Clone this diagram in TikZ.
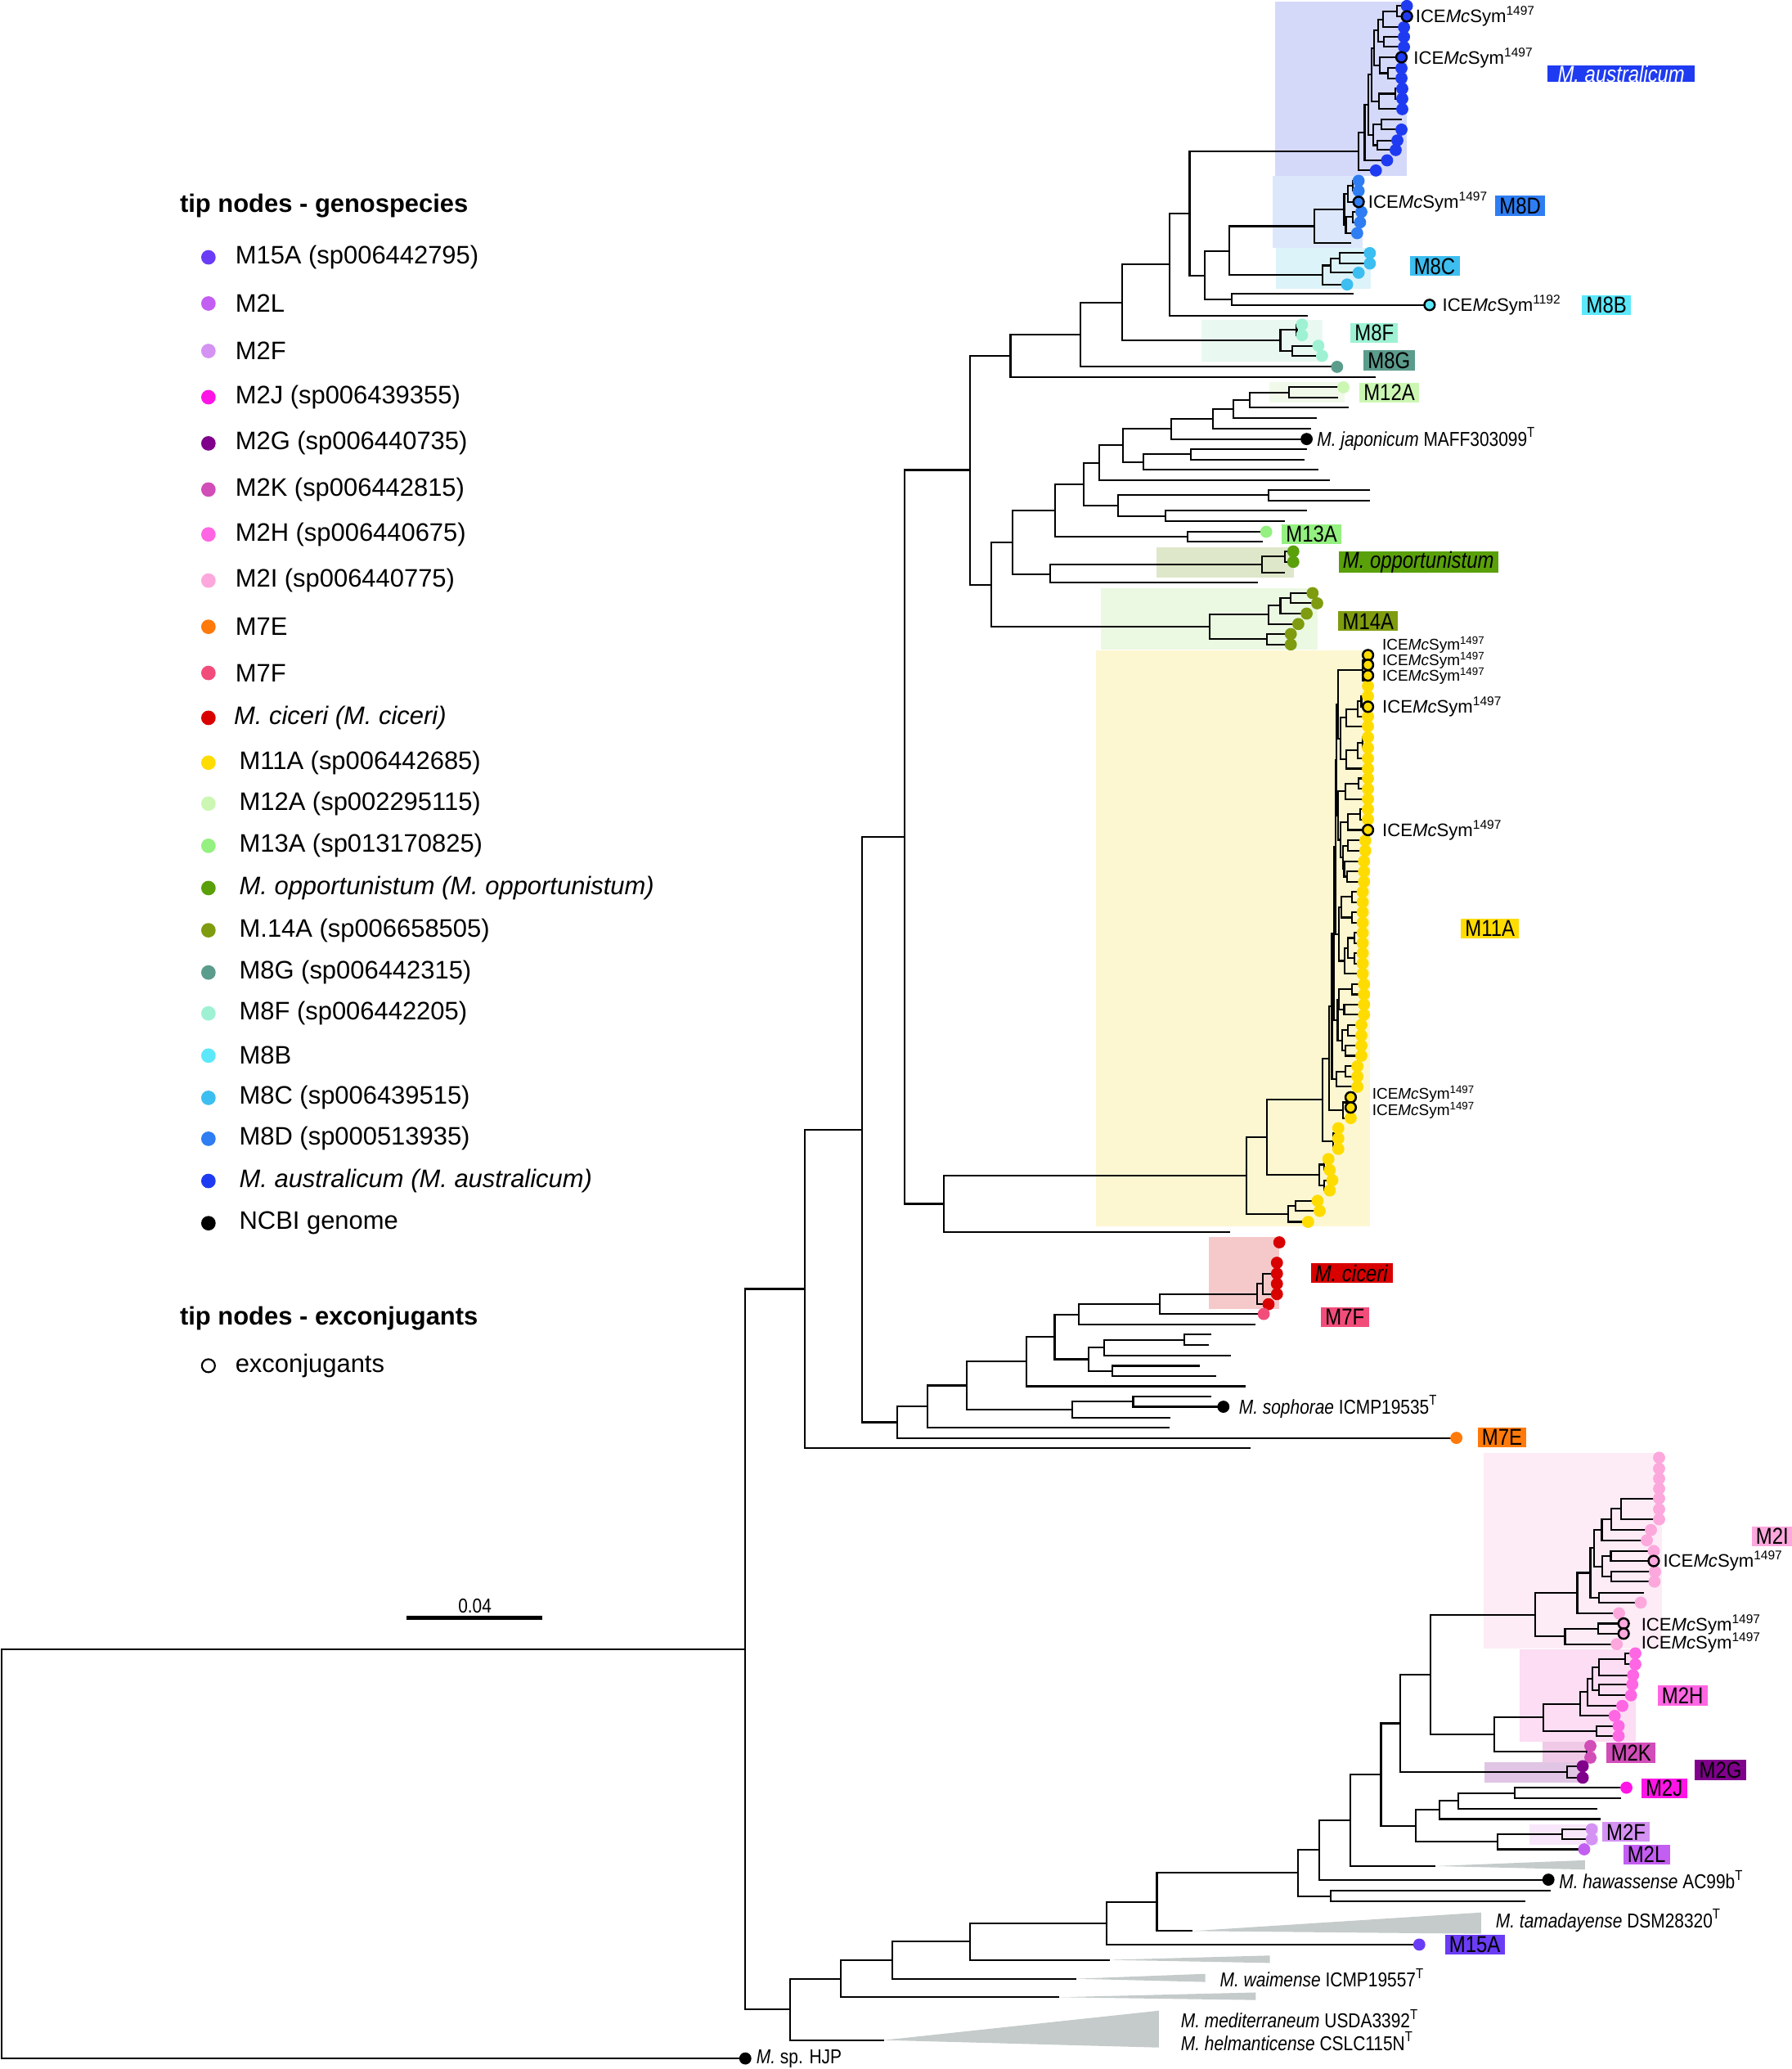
\documentclass[tikz,border=0pt]{standalone}
\usepackage{fontspec}
\setmainfont{Liberation Sans}
\newfontfamily\nar[FakeStretch=0.85]{Liberation Sans}
\newcommand\lgf{\fontsize{8.8}{10}\selectfont}
\newcommand\icef{\fontsize{6.3}{7}\selectfont}
\newcommand\icesf{\fontsize{5.4}{6}\selectfont}
\newcommand\spf{\nar\fontsize{7}{8}\selectfont}
\newcommand\bxf{\nar\fontsize{8}{8}\selectfont}
\definecolor{cM15A}{HTML}{6B3CF5}
\definecolor{cM2L}{HTML}{C35EF2}
\definecolor{cM2F}{HTML}{D492F2}
\definecolor{cM2J}{HTML}{FF14E6}
\definecolor{cM2G}{HTML}{80008C}
\definecolor{cM2K}{HTML}{D14DB8}
\definecolor{cM2H}{HTML}{FF66E3}
\definecolor{cM2I}{HTML}{FCA8DD}
\definecolor{cM7E}{HTML}{FF7A0A}
\definecolor{cM7F}{HTML}{F24D7A}
\definecolor{cCic}{HTML}{D90000}
\definecolor{cM11A}{HTML}{FFDC00}
\definecolor{cM12A}{HTML}{CCF7B3}
\definecolor{cM13A}{HTML}{94F080}
\definecolor{cOpp}{HTML}{5AA00A}
\definecolor{cM14A}{HTML}{7F9C10}
\definecolor{cM8G}{HTML}{5C9C8C}
\definecolor{cM8F}{HTML}{9EF2D3}
\definecolor{cM8B}{HTML}{5CE8FA}
\definecolor{cM8C}{HTML}{3DBEF0}
\definecolor{cM8D}{HTML}{2E7DF2}
\definecolor{cAus}{HTML}{1F3BF2}
\definecolor{bAus}{HTML}{D4D8F9}
\definecolor{bM8D}{HTML}{DCE7FC}
\definecolor{bM8C}{HTML}{DDF3FA}
\definecolor{bM8F}{HTML}{E9F9F1}
\definecolor{bM12A}{HTML}{F1FAEA}
\definecolor{bOpp}{HTML}{DEE7C9}
\definecolor{bM14A}{HTML}{EBF8E2}
\definecolor{bM11A}{HTML}{FCF7D1}
\definecolor{bCic}{HTML}{F5C9C9}
\definecolor{bM2I}{HTML}{FDEBF6}
\definecolor{bM2H}{HTML}{FCDDF3}
\definecolor{bM2K}{HTML}{F0C9E7}
\definecolor{bM2G}{HTML}{E1C5E5}
\definecolor{bM2F}{HTML}{F8E7FB}
\definecolor{triG}{HTML}{C4CBCA}
\newcommand\clade[5]{\draw[br] (#3,#2) -- (#1,#2) -- (#1,#4) -- (#5,#4);}
\newcommand\tdot[3]{\fill[#1] (#2,#3) circle[radius=0.0742cm];}
\newcommand\xdot[3]{\filldraw[fill=#1,draw=black,line width=0.7pt] (#2,#3) circle[radius=0.064cm];}
\begin{document}
\begin{tikzpicture}[x=0.016127cm,y=-0.016127cm,
  br/.style={line width=0.6pt,line join=miter},
  bx/.style={fill=#1,inner xsep=1.5pt,inner ysep=0pt,minimum height=0.242cm,font=\bxf,text=black},
  ice/.style={anchor=west,inner sep=0pt,font=\icef},
  ices/.style={anchor=west,inner sep=0pt,font=\icesf},
  spl/.style={anchor=west,inner sep=0pt,font=\spf},
  lgt/.style={anchor=west,inner sep=0pt,font=\lgf}]
\useasboundingbox (0,0) rectangle (1358,1568);
\fill[white] (0,0) rectangle (1358,1568);
% ---------- clade boxes ----------
\fill[bAus] (966.8,1) rectangle (1066.5,133.3);
\fill[bM8D] (965,133.3) rectangle (1032.7,187.7);
\fill[bM8C] (967.4,187.7) rectangle (1039,219.1);
\fill[bM8F] (910.8,242.5) rectangle (1002.3,273.8);
\fill[bM12A] (962.4,289.3) rectangle (1019,304.8);
\fill[bOpp] (876.7,414.6) rectangle (981.1,437.5);
\fill[bM14A] (834.6,445.8) rectangle (999.1,492.5);
\fill[bM11A] (830.5,492.6) rectangle (1038.7,929.1);
\fill[bCic] (916.4,937.3) rectangle (969.8,992.1);
\fill[bM2I] (1124.4,1101.4) rectangle (1259.8,1249.3);
\fill[bM2H] (1151.7,1250) rectangle (1240.1,1320);
\fill[bM2K] (1169.4,1320) rectangle (1208.7,1336.3);
\fill[bM2G] (1125,1335.6) rectangle (1199.8,1350.9);
\fill[bM2F] (1159.5,1382.6) rectangle (1211.2,1397.9);
% ---------- collapsed clades ----------
\fill[triG] (904,1463.4) -- (1122.8,1449.4) -- (1122.8,1465.5) -- cycle;
\fill[triG] (841.2,1485.3) -- (962.6,1482) -- (962.6,1487.6) -- cycle;
\fill[triG] (815.7,1499.6) -- (913.7,1495.9) -- (913.7,1502) -- cycle;
\fill[triG] (803,1513.6) -- (951.9,1510) -- (951.9,1515.7) -- cycle;
\fill[triG] (670.3,1546.1) -- (878.5,1523.8) -- (878.5,1551.7) -- cycle;
\fill[triG] (1088.2,1414.2) -- (1201.5,1409.8) -- (1201.5,1416.8) -- cycle;
% ---------- backbone ----------
\clade{1}{1250}{565}{1560}{565}
\clade{565}{976.8}{609.9}{1522.8}{598.9}
\clade{609.9}{856.1}{653.3}{1097.5}{948}
\clade{653.3}{634.25}{686}{1077.85}{680.4}
\clade{686}{356.2}{735.3}{912.3}{715.3}
\clade{735.3}{269.7}{766}{443.15}{751.7}
\clade{766}{253.6}{818.8}{285.8}{1042.7}
\clade{818.8}{229.2}{850.7}{278}{1013.6}
\clade{850.7}{200.45}{886.8}{257.9}{970.6}
\clade{886.8}{161.8}{901.8}{239.1}{991.5}
\clade{901.8}{114.8}{1029.9}{208.75}{913.4}
\clade{913.4}{190.1}{932.1}{226.95}{933.7}
\clade{933.7}{222.8}{1025.9}{231.1}{1083.7}
\clade{932.1}{171.4}{996.2}{208.4}{1002.4}
% M8D
\clade{996.2}{158.75}{1019}{184}{1024.3}
\clade{1019}{146.9}{1022}{170.6}{1020.2}
\clade{1022}{140.85}{1025.5}{153}{1029.9}
\clade{1025.5}{137}{1029.9}{144.7}{1029.9}
\clade{1020.2}{164.55}{1025.5}{176.7}{1028.8}
\clade{1025.5}{160.6}{1032}{168.5}{1031}
% M8C
\clade{1002.4}{201.2}{1008.7}{215.6}{1021.2}
\clade{1008.7}{195.75}{1015.6}{206.7}{1029.9}
\clade{1015.6}{191.8}{1038.4}{199.7}{1038.4}
% M8F
\clade{970.6}{250}{983}{265.85}{979.5}
\clade{983}{246}{987}{254}{987}
\clade{979.5}{262}{999.4}{269.7}{1002.2}
% australicum
\clade{1029.9}{100.45}{1034.5}{129.2}{1043}
\clade{1034.5}{79.4}{1037.5}{121.5}{1051.5}
\clade{1037.5}{56.6}{1040}{102.15}{1041}
\clade{1040}{36.3}{1041.5}{76.85}{1045.5}
\clade{1041.5}{23.2}{1044.6}{49.45}{1046}
\clade{1044.6}{14.6}{1048.7}{31.75}{1049.3}
\clade{1048.7}{8.45}{1058.7}{20.7}{1064.3}
\clade{1058.7}{4.5}{1066.5}{12.4}{1066.5}
\clade{1049.3}{27.9}{1064.3}{35.6}{1064.3}
\clade{1046}{43.4}{1062.4}{55.5}{1052}
\clade{1052}{51.7}{1062.4}{59.3}{1062.4}
\clade{1045.5}{71}{1058}{82.7}{1063}
\clade{1058}{67.2}{1063}{74.8}{1063}
\clade{1041}{94.25}{1047}{110.05}{1044}
\clade{1047}{90.3}{1062.4}{98.2}{1062.4}
\clade{1044}{106.4}{1059.3}{113.7}{1058}
% middle upper clades
\clade{751.7}{410.95}{767.5}{475.15}{917.2}
\clade{767.5}{386.9}{799.8}{435}{796}
\clade{796}{427.8}{956.7}{441.7}{953.5}
\clade{956.7}{421.85}{973.8}{434}{973.8}
\clade{973.8}{417.9}{980.4}{425.8}{980.4}
\clade{799.8}{366.9}{821.3}{406.85}{900.4}
\clade{900.4}{403}{959.9}{410.7}{957.3}
\clade{821.3}{350.65}{833.3}{383.15}{847.6}
\clade{833.3}{337.5}{851.4}{363.8}{1008}
\clade{851.4}{324.9}{887.7}{350.1}{866.5}
\clade{887.7}{317.35}{919.4}{332.7}{990.5}
\clade{919.4}{309.9}{935.2}{324.9}{993.7}
\clade{935.2}{303.2}{947.5}{316.8}{998.5}
\clade{947.5}{297.4}{977}{309}{1022.2}
\clade{977}{293.5}{1018.4}{301.3}{1014.3}
\clade{866.5}{344.3}{902.6}{355.9}{999.4}
\clade{902.6}{340.4}{990.5}{348.2}{989}
\clade{847.6}{375.35}{961.4}{390.95}{883.6}
\clade{961.4}{371.4}{1038.6}{379.3}{1038.6}
\clade{883.6}{387.1}{990.5}{394.8}{973.8}
% M14A
\clade{917.2}{465.85}{961.4}{484.45}{960.5}
\clade{961.4}{459}{970.6}{472.9}{984.2}
\clade{970.6}{453.35}{978.5}{465}{990.5}
\clade{978.5}{449.5}{995}{457.2}{998.5}
\clade{960.5}{480.5}{978.5}{488.4}{978.5}
% M11A
\clade{715.3}{891}{945.1}{933.6}{932.6}
\clade{945.1}{861.95}{960.3}{920}{976.4}
\clade{976.4}{913.9}{982}{926}{991.6}
\clade{982}{910}{998.8}{917.7}{1000.4}
\clade{960.3}{833.4}{1002.6}{890.5}{1000}
\clade{1000}{882.55}{1004}{898.3}{1004}
\clade{1004}{878.4}{1007}{886.7}{1008}
\clade{1004}{894.4}{1010}{902.2}{1008}
\clade{1002.6}{802}{1007.3}{864.8}{1010.7}
\clade{1010.7}{858.9}{1012.5}{870.7}{1014.5}
\clade{1012.5}{855}{1014.5}{862.8}{1014.5}
\clade{1007.3}{762.65}{1009.7}{841.4}{1018}
\clade{1018}{835.45}{1021}{847.3}{1023.9}
\clade{1021}{831.6}{1023.9}{839.3}{1023.9}
\clade{1009.7}{707.5}{1011.5}{817.8}{1013.3}
\clade{1013.3}{811.95}{1020}{823.6}{1029}
\clade{1020}{808.1}{1029}{815.8}{1029}
\clade{1011.5}{641.9}{1012.5}{773}{1014}
\clade{1014}{757.45}{1015}{788.5}{1017.3}
\clade{1015}{749.75}{1025}{765.15}{1019}
\clade{1025}{745.9}{1034}{753.6}{1034}
\clade{1019}{761.3}{1034}{769}{1034}
\clade{1017.3}{780.7}{1022}{796.25}{1020}
\clade{1022}{776.7}{1032}{784.7}{1032}
\clade{1020}{792.4}{1032}{800.1}{1032}
\clade{1012.5}{576}{1013.3}{707.85}{1014.9}
\clade{1014.9}{687.5}{1017}{728.2}{1019.2}
\clade{1017}{679.75}{1025}{695.3}{1025}
\clade{1025}{675.9}{1033}{683.6}{1033}
\clade{1025}{691.3}{1033}{699.3}{1033}
\clade{1019.2}{718.55}{1022}{737.9}{1033}
\clade{1022}{710.85}{1027}{726.25}{1027}
\clade{1027}{707}{1033}{714.7}{1033}
\clade{1027}{722.4}{1033}{730.1}{1033}
\clade{1013.3}{533.95}{1014.5}{618.1}{1014.5}
\clade{1014.5}{599.75}{1020}{636.4}{1016}
\clade{1020}{593.9}{1030}{605.6}{1037}
\clade{1030}{589.9}{1037}{597.9}{1037}
\clade{1016}{623.1}{1022}{649.7}{1018}
\clade{1022}{617.15}{1031}{629}{1037}
\clade{1031}{613.3}{1037}{621}{1037}
\clade{1018}{640.85}{1022}{658.5}{1019}
\clade{1022}{637}{1035}{644.7}{1035}
\clade{1019}{652.7}{1034}{664.35}{1021}
\clade{1021}{660.5}{1034}{668.2}{1034}
\clade{1014.5}{508.05}{1033}{559.7}{1016.1}
\clade{1033}{500.2}{1034}{515.9}{1034}
\clade{1034}{496.5}{1037}{503.9}{1037}
\clade{1034}{511.9}{1037}{519.9}{1037}
\clade{1016.1}{543.85}{1020.4}{575.6}{1020.4}
\clade{1020.4}{537.3}{1029}{550.4}{1037}
\clade{1029}{531.6}{1032}{543}{1037}
\clade{1032}{527.6}{1037}{535.6}{1037}
\clade{1020.4}{568.7}{1029}{582.5}{1037}
\clade{1029}{562.7}{1033}{574.7}{1037}
\clade{1033}{558.7}{1037}{566.7}{1037}
% ciceri / sophorae part
\clade{680.4}{1066}{703.1}{1089.7}{1104}
\clade{703.1}{1050}{733}{1082}{886.7}
\clade{733}{1031.85}{778.2}{1068.2}{812.8}
\clade{812.8}{1062.2}{859}{1074.2}{887.5}
\clade{859}{1058.3}{918.5}{1066.1}{927.4}
\clade{778.2}{1013.1}{799.5}{1050.6}{944.3}
\clade{799.5}{996.1}{817.8}{1030.1}{825}
\clade{825}{1021.25}{836.9}{1038.95}{843.2}
\clade{836.9}{1015.35}{897.8}{1027.2}{932.9}
\clade{897.8}{1011.3}{918.5}{1019.4}{916.6}
\clade{843.2}{1035.1}{909.4}{1042.8}{921.8}
\clade{817.8}{988.25}{878.9}{1003.9}{951.7}
\clade{878.9}{980.7}{952.7}{995.8}{958}
\clade{952.7}{972.95}{957.4}{988.4}{961.6}
\clade{957.4}{965.2}{968}{980.7}{968}
% lower part
\clade{598.9}{1499.55}{637.2}{1546.1}{670.3}
\clade{637.2}{1485.5}{676.4}{1513.6}{803}
\clade{676.4}{1471.4}{735.1}{1499.6}{815.7}
\clade{735.1}{1457.55}{838.7}{1485.3}{841.2}
\clade{838.7}{1441.4}{877}{1473.7}{1075.9}
\clade{877}{1419.45}{984}{1463.4}{904}
\clade{984}{1402}{1000.3}{1436.9}{1008.5}
\clade{1008.5}{1432.8}{1175.4}{1441}{1156}
\clade{1000.3}{1379.5}{1023.8}{1424.5}{1173.8}
\clade{1023.8}{1344.85}{1046.9}{1414.2}{1088.2}
\clade{1046.9}{1306}{1061.7}{1383.7}{1073}
\clade{1073}{1371.65}{1091.4}{1395.8}{1135}
\clade{1135}{1390.1}{1184.3}{1401.5}{1200.9}
\clade{1184.3}{1386.3}{1206.6}{1393.9}{1206.6}
\clade{1091.4}{1364.7}{1105.6}{1378.6}{1213.3}
\clade{1105.6}{1358.8}{1148.1}{1370.6}{1210.6}
\clade{1148.1}{1354.8}{1232.9}{1362.8}{1228.8}
\clade{1061.7}{1269.15}{1084.6}{1342.85}{1187.8}
\clade{1187.8}{1338.5}{1199.8}{1347.2}{1199.8}
\clade{1084.6}{1223.7}{1163.6}{1314.6}{1133}
\clade{1133}{1301.6}{1169.8}{1327.6}{1203}
\clade{1203}{1323.2}{1205.6}{1332}{1205.6}
\clade{1169.8}{1291.4}{1197.8}{1311.8}{1210.1}
\clade{1210.1}{1308}{1227}{1315.6}{1227}
\clade{1197.8}{1282.4}{1203.5}{1300.4}{1224}
\clade{1203.5}{1272}{1207}{1292.8}{1229.8}
\clade{1207}{1263.3}{1212.2}{1280.65}{1212.2}
\clade{1212.2}{1257.15}{1232}{1269.5}{1238}
\clade{1232}{1253}{1239.7}{1261.3}{1239.7}
\clade{1212.2}{1276.5}{1237.4}{1284.8}{1236.4}
\clade{1163.6}{1207.3}{1195.7}{1240.1}{1186.4}
\clade{1186.4}{1234.2}{1211.6}{1246}{1225.6}
\clade{1211.6}{1230.4}{1230.8}{1238}{1230.8}
\clade{1195.7}{1191.95}{1205.6}{1222.6}{1227.3}
\clade{1205.6}{1173.2}{1208.5}{1210.7}{1212.2}
\clade{1212.2}{1206.9}{1245.9}{1214.5}{1243.8}
\clade{1208.5}{1159.4}{1214.3}{1187.05}{1214.7}
\clade{1214.7}{1179.2}{1221.1}{1194.9}{1221.5}
\clade{1221.1}{1175.4}{1253.6}{1183}{1253.6}
\clade{1221.5}{1191.2}{1254.6}{1198.6}{1254.2}
\clade{1214.3}{1151.5}{1221.5}{1167.3}{1248.4}
\clade{1221.5}{1143.5}{1228.8}{1159.5}{1251.5}
\clade{1228.8}{1135.6}{1257.7}{1151.4}{1257.7}
% ---------- tip dots ----------
\tdot{black}{565}{1560}
\foreach \a/\b in {1066.5/4.5,1064.3/20.7,1064.3/27.9,1064.3/35.6,1062.4/51.7,1062.4/59.3,1063/67.2,1063/74.8,1063/82.7,1062.4/98.2,1059.3/106.4,1058/113.7,1051.5/121.5,1043/129.2}{\tdot{cAus}{\a}{\b}}
\xdot{cAus}{1066.5}{12.4}
\xdot{cAus}{1062.4}{43.4}
\foreach \a/\b in {1029.9/137,1029.9/144.7,1032/160.6,1031/168.5,1028.8/176.7}{\tdot{cM8D}{\a}{\b}}
\xdot{cM8D}{1029.9}{153}
\foreach \a/\b in {1038.4/191.8,1038.4/199.7,1029.9/206.7,1021.2/215.6}{\tdot{cM8C}{\a}{\b}}
\xdot{cM8B}{1083.7}{231.1}
\foreach \a/\b in {987/246,987/254,999.4/262,1002.2/269.7}{\tdot{cM8F}{\a}{\b}}
\tdot{cM8G}{1013.6}{278}
\tdot{cM12A}{1018.4}{293.5}
\tdot{black}{990.5}{332.7}
\tdot{cM13A}{959.9}{403}
\tdot{cOpp}{980.4}{417.9}
\tdot{cOpp}{980.4}{425.8}
\foreach \a/\b in {995/449.5,998.5/457.2,990.5/465,984.2/472.9,978.5/480.5,978.5/488.4}{\tdot{cM14A}{\a}{\b}}
\foreach \a/\b in {1037/519.9,1037/527.6,1037/543,1037/550.4,1037/558.7,1037/566.7,1037/574.7,1037/582.5,1037/589.9,1037/597.9,1037/605.6,1037/613.3,1037/621,1035/637,1035/644.7,1034/652.7,1034/660.5,1034/668.2,1033/675.9,1033/683.6,1033/691.3,1033/699.3,1033/707,1033/714.7,1033/722.4,1033/730.1,1033/737.9,1034/745.9,1034/753.6,1034/761.3,1034/769,1032/776.7,1032/784.7,1032/792.4,1032/800.1,1029/808.1,1029/815.8,1029/823.6,1023.9/847.3,1014.5/855,1014.5/862.8,1014.5/870.7,1007/878.4,1008/886.7,1010/894.4,1008/902.2,998.8/910,1000.4/917.7,991.6/926}{\tdot{cM11A}{\a}{\b}}
\foreach \a/\b in {1037/496.5,1037/503.9,1037/511.9,1037/535.6,1037/629,1023.9/831.6,1023.9/839.3}{\xdot{cM11A}{\a}{\b}}
\foreach \a/\b in {969.8/941.5,968/957,968/965.2,968/972.9,968/980.7,961.6/988.4}{\tdot{cCic}{\a}{\b}}
\tdot{cM7F}{958}{995.8}
\tdot{black}{927.4}{1066.1}
\tdot{cM7E}{1104}{1089.7}
\foreach \a/\b in {1257.7/1104.7,1257.7/1113,1257.7/1120.6,1257.7/1128.2,1257.7/1135.6,1257.7/1143.8,1257.7/1151.4,1251.5/1159.5,1248.4/1167.3,1253.6/1175.4,1254.6/1191.2,1254.2/1198.6,1243.8/1214.5,1227.3/1222.6,1225.6/1246}{\tdot{cM2I}{\a}{\b}}
\foreach \a/\b in {1253.6/1183,1230.8/1230.4,1230.8/1238}{\xdot{cM2I}{\a}{\b}}
\foreach \a/\b in {1239.7/1253,1239.7/1261.3,1238/1269.5,1237.4/1276.5,1236.4/1284.8,1229.8/1292.8,1224/1300.4,1227/1308,1227/1315.6}{\tdot{cM2H}{\a}{\b}}
\tdot{cM2K}{1205.6}{1323.2}
\tdot{cM2K}{1205.6}{1332}
\tdot{cM2G}{1199.8}{1338.5}
\tdot{cM2G}{1199.8}{1347.2}
\tdot{cM2J}{1232.9}{1354.8}
\tdot{cM2F}{1206.6}{1386.3}
\tdot{cM2F}{1206.6}{1393.9}
\tdot{cM2L}{1200.9}{1401.5}
\tdot{black}{1173.8}{1424.5}
\tdot{cM15A}{1075.9}{1473.7}
% ---------- exconjugant labels ----------
\node[ice] (e1) at (1072.7,12.4) {ICE\textit{Mc}Sym\textsuperscript{1497}};
\node[ice] (e2) at (1071.2,43.8) {ICE\textit{Mc}Sym\textsuperscript{1497}};
\node[ice] (e3) at (1036.8,153) {ICE\textit{Mc}Sym\textsuperscript{1497}};
\node[ice] (e4) at (1093,231.1) {ICE\textit{Mc}Sym\textsuperscript{1192}};
\node[ices] (e5) at (1047.5,489) {ICE\textit{Mc}Sym\textsuperscript{1497}};
\node[ices] (e6) at (1047.5,500.8) {ICE\textit{Mc}Sym\textsuperscript{1497}};
\node[ices] (e7) at (1047.5,512.6) {ICE\textit{Mc}Sym\textsuperscript{1497}};
\node[ice] (e8) at (1047.5,535.6) {ICE\textit{Mc}Sym\textsuperscript{1497}};
\node[ice] (e9) at (1047.5,629) {ICE\textit{Mc}Sym\textsuperscript{1497}};
\node[ices] (e10) at (1039.8,829.3) {ICE\textit{Mc}Sym\textsuperscript{1497}};
\node[ices] (e11) at (1039.8,841.5) {ICE\textit{Mc}Sym\textsuperscript{1497}};
\node[ice] (e12) at (1260.4,1183) {ICE\textit{Mc}Sym\textsuperscript{1497}};
\node[ice] (e13) at (1243.8,1231.3) {ICE\textit{Mc}Sym\textsuperscript{1497}};
\node[ice] (e14) at (1243.8,1245) {ICE\textit{Mc}Sym\textsuperscript{1497}};
% ---------- species labels ----------
\node[spl] (sjap) at (998,332.7) {\textit{M. japonicum} MAFF303099\textsuperscript{T}};
\node[spl] (ssop) at (938.8,1066.1) {\textit{M. sophorae} ICMP19535\textsuperscript{T}};
\node[spl] (shaw) at (1181.5,1424.5) {\textit{M. hawassense} AC99b\textsuperscript{T}};
\node[spl] (stam) at (1133.5,1455.6) {\textit{M. tamadayense} DSM28320\textsuperscript{T}};
\node[spl] (swai) at (924.4,1499) {\textit{M. waimense} ICMP19557\textsuperscript{T}};
\node[spl] (smed) at (894.8,1530) {\textit{M. mediterraneum} USDA3392\textsuperscript{T}};
\node[spl] (shel) at (894.8,1547) {\textit{M. helmanticense} CSLC115N\textsuperscript{T}};
\node[spl] (shjp) at (573,1560) {\textit{M.} sp. HJP};
% ---------- group labels ----------
\node[bx=cAus,text=white,minimum width=1.8cm,minimum height=0.2cm] (gAus) at (1229,55.8) {\textit{M. australicum}};
\node[bx=cM8D] (gM8D) at (1152.4,155.9) {M8D};
\node[bx=cM8C] (gM8C) at (1087.5,201.7) {M8C};
\node[bx=cM8B] (gM8B) at (1217.8,231.1) {M8B};
\node[bx=cM8F] (gM8F) at (1041.8,252.2) {M8F};
\node[bx=cM8G] (gM8G) at (1053,273.1) {M8G};
\node[bx=cM12A] (gM12A) at (1053.1,297.4) {M12A};
\node[bx=cM13A] (gM13A) at (994.3,404.7) {M13A};
\node[bx=cOpp] (gOpp) at (1075.2,426) {\textit{M. opportunistum}};
\node[bx=cM14A] (gM14A) at (1037.2,470.8) {M14A};
\node[bx=cM11A] (gM11A) at (1129.5,703.7) {M11A};
\node[bx=cCic] (gCic) at (1024.6,964.8) {\textit{M. ciceri}};
\node[bx=cM7F] (gM7F) at (1019.5,998.4) {M7F};
\node[bx=cM7E] (gM7E) at (1138.6,1089.5) {M7E};
\node[bx=cM2I] (gM2I) at (1343.4,1164.3) {M2I};
\node[bx=cM2H] (gM2H) at (1275.4,1284.9) {M2H};
\node[bx=cM2K] (gM2K) at (1236.5,1328.3) {M2K};
\node[bx=cM2G] (gM2G) at (1304.2,1341.4) {M2G};
\node[bx=cM2J] (gM2J) at (1261.5,1355.3) {M2J};
\node[bx=cM2F] (gM2F) at (1232.6,1388.3) {M2F};
\node[bx=cM2L] (gM2L) at (1248.1,1405.3) {M2L};
\node[bx=cM15A] (gM15A) at (1118,1473.7) {M15A};
% ---------- scale bar ----------
\draw[line width=1.4pt] (308,1226) -- (411,1226);
\node[font=\spf,anchor=south,inner sep=0pt] (scl) at (360,1223) {0.04};
% ---------- legend ----------
\node[lgt,font=\lgf\bfseries] (h1) at (136,156) {tip nodes - genospecies};
\foreach \yy/\cc/\xx/\tt in {195/cM15A/178/M15A (sp006442795),230/cM2L/178/M2L,266/cM2F/178/M2F,301/cM2J/178/M2J (sp006439355),336/cM2G/178/M2G (sp006440735),371/cM2K/178/M2K (sp006442815),405/cM2H/178/M2H (sp006440675),440/cM2I/178/M2I (sp006440775),475/cM7E/178/M7E,510/cM7F/178/M7F,544/cCic/177/\textit{M. ciceri (M. ciceri)},578/cM11A/181/M11A (sp006442685),609/cM12A/181/M12A (sp002295115),641/cM13A/181/M13A (sp013170825),673/cOpp/181/\textit{M. opportunistum (M. opportunistum)},705/cM14A/181/M.14A (sp006658505),737/cM8G/181/M8G (sp006442315),768/cM8F/181/M8F (sp006442205),800/cM8B/181/M8B,832/cM8C/181/M8C (sp006439515),863/cM8D/181/M8D (sp000513935),895/cAus/181/\textit{M. australicum (M. australicum)},927/black/181/NCBI genome}{
  \fill[\cc] (158,\yy) circle[radius=0.0887cm];
  \node[lgt] at (\xx,\yy) {\tt};
}
\node[lgt,font=\lgf\bfseries] (h2) at (136,999) {tip nodes - exconjugants};
\filldraw[fill=white,draw=black,line width=0.6pt] (158,1035) circle[radius=0.08cm];
\node[lgt] (lex) at (178,1035) {exconjugants};
\end{tikzpicture}
\end{document}
